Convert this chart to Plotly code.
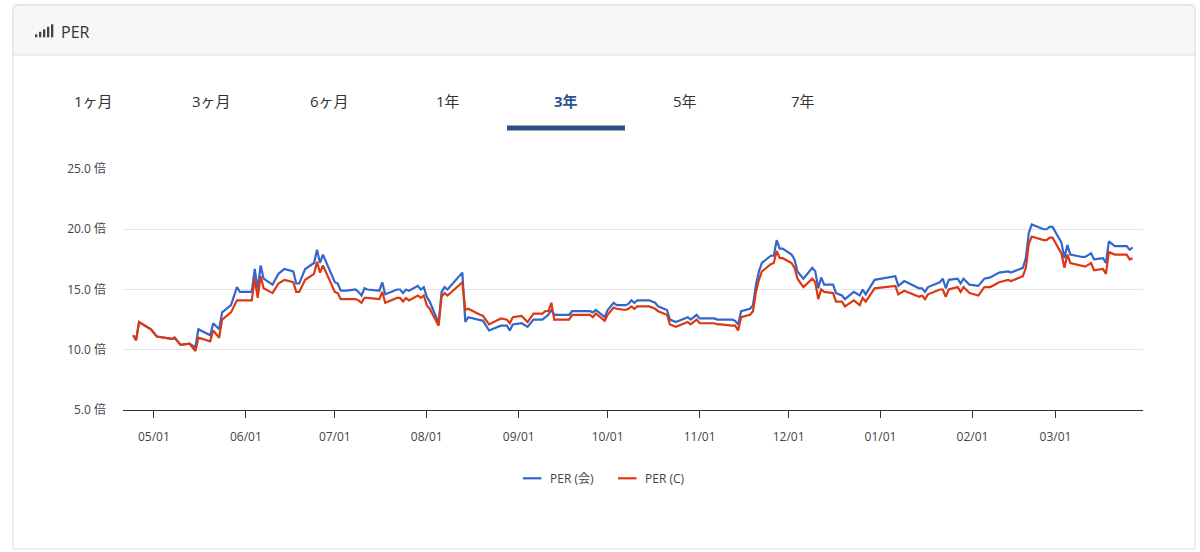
"""PER chart (3年 tab): PER (会) vs PER (C), Apr 2024 - Mar 2025."""

import plotly.graph_objects as go

DATES = [
    "2024-04-24", "2024-04-25", "2024-04-26", "2024-04-30", "2024-05-02", "2024-05-07",
    "2024-05-08", "2024-05-10", "2024-05-13", "2024-05-15", "2024-05-16", "2024-05-20",
    "2024-05-21", "2024-05-23", "2024-05-24", "2024-05-27", "2024-05-29", "2024-05-30",
    "2024-06-03", "2024-06-04", "2024-06-05", "2024-06-06", "2024-06-07", "2024-06-10",
    "2024-06-12", "2024-06-14", "2024-06-17", "2024-06-18", "2024-06-19", "2024-06-21",
    "2024-06-24", "2024-06-25", "2024-06-26", "2024-06-27", "2024-07-01", "2024-07-02",
    "2024-07-03", "2024-07-05", "2024-07-08", "2024-07-09", "2024-07-10", "2024-07-11",
    "2024-07-12", "2024-07-16", "2024-07-17", "2024-07-18", "2024-07-22", "2024-07-23",
    "2024-07-24", "2024-07-25", "2024-07-26", "2024-07-29", "2024-07-30", "2024-07-31",
    "2024-08-01", "2024-08-02", "2024-08-05", "2024-08-06", "2024-08-07", "2024-08-08",
    "2024-08-13", "2024-08-14", "2024-08-15", "2024-08-19", "2024-08-20", "2024-08-22",
    "2024-08-26", "2024-08-28", "2024-08-29", "2024-08-30", "2024-09-02", "2024-09-04",
    "2024-09-06", "2024-09-09", "2024-09-10", "2024-09-11", "2024-09-12", "2024-09-13",
    "2024-09-18", "2024-09-19", "2024-09-25", "2024-09-26", "2024-09-27", "2024-09-30",
    "2024-10-01", "2024-10-03", "2024-10-04", "2024-10-07", "2024-10-08", "2024-10-09",
    "2024-10-10", "2024-10-11", "2024-10-15", "2024-10-17", "2024-10-18", "2024-10-21",
    "2024-10-22", "2024-10-24", "2024-10-28", "2024-10-29", "2024-10-31", "2024-11-01",
    "2024-11-06", "2024-11-07", "2024-11-08", "2024-11-12", "2024-11-13", "2024-11-14",
    "2024-11-15", "2024-11-18", "2024-11-19", "2024-11-20", "2024-11-21", "2024-11-22",
    "2024-11-25", "2024-11-26", "2024-11-27", "2024-11-28", "2024-11-29", "2024-12-02",
    "2024-12-03", "2024-12-04", "2024-12-06", "2024-12-09", "2024-12-10", "2024-12-11",
    "2024-12-12", "2024-12-13", "2024-12-16", "2024-12-17", "2024-12-19", "2024-12-20",
    "2024-12-23", "2024-12-25", "2024-12-26", "2024-12-27", "2024-12-30", "2025-01-06",
    "2025-01-07", "2025-01-09", "2025-01-14", "2025-01-15", "2025-01-16", "2025-01-17",
    "2025-01-21", "2025-01-22", "2025-01-23", "2025-01-24", "2025-01-27", "2025-01-28",
    "2025-01-29", "2025-01-31", "2025-02-03", "2025-02-05", "2025-02-07", "2025-02-10",
    "2025-02-13", "2025-02-14", "2025-02-18", "2025-02-19", "2025-02-20", "2025-02-21",
    "2025-02-25", "2025-02-26", "2025-02-27", "2025-02-28", "2025-03-03", "2025-03-04",
    "2025-03-05", "2025-03-06", "2025-03-10", "2025-03-11", "2025-03-13", "2025-03-14",
    "2025-03-17", "2025-03-18", "2025-03-19", "2025-03-21", "2025-03-25", "2025-03-26",
    "2025-03-27",
]

# PER (会) - blue
PER_KAI = [
    11.2, 10.8, 12.3, 11.7, 11.1, 10.9,
    11.0, 10.4, 10.5, 10.2, 11.7, 11.2,
    12.2, 11.7, 13.1, 13.7, 15.2, 14.8,
    14.8, 16.7, 15.0, 17.0, 15.9, 15.4,
    16.3, 16.7, 16.5, 15.5, 15.5, 16.7,
    17.2, 18.3, 17.2, 17.9, 15.6, 15.5,
    14.9, 14.9, 15.0, 14.8, 14.5, 15.1,
    15.0, 14.9, 15.6, 14.6, 15.0, 15.0,
    14.7, 15.0, 14.9, 15.3, 15.0, 15.2,
    14.4, 14.0, 12.2, 14.8, 15.2, 15.0,
    16.4, 12.3, 12.7, 12.5, 12.4, 11.6,
    12.0, 12.0, 11.6, 12.1, 12.2, 11.9,
    12.5, 12.5, 12.7, 12.9, 13.3, 12.9,
    12.9, 13.2, 13.2, 13.1, 13.3, 12.7,
    13.3, 13.9, 13.7, 13.7, 13.8, 14.1,
    13.9, 14.1, 14.1, 13.9, 13.6, 13.3,
    12.5, 12.3, 12.7, 12.5, 12.9, 12.6,
    12.6, 12.5, 12.5, 12.5, 12.4, 12.1,
    13.2, 13.4, 13.7, 15.4, 16.5, 17.2,
    17.8, 17.8, 19.1, 18.4, 18.4, 17.9,
    17.5, 16.5, 15.9, 16.8, 16.5, 15.1,
    16.0, 15.4, 15.4, 14.7, 14.5, 14.2,
    14.8, 14.5, 15.0, 14.6, 15.8, 16.1,
    15.3, 15.7, 15.1, 15.1, 14.8, 15.2,
    15.6, 15.9, 15.1, 15.8, 15.9, 15.5,
    15.9, 15.4, 15.3, 15.9, 16.0, 16.4,
    16.5, 16.4, 16.8, 17.6, 19.7, 20.4,
    20.0, 20.0, 20.2, 20.2, 18.9, 17.6,
    18.7, 17.9, 17.7, 17.7, 18.0, 17.5,
    17.6, 17.2, 19.0, 18.6, 18.6, 18.3,
    18.5,
]

# PER (C) - red
PER_C = [
    11.2, 10.8, 12.3, 11.7, 11.1, 10.9,
    11.0, 10.4, 10.5, 9.9, 11.0, 10.7,
    11.6, 11.0, 12.5, 13.1, 14.1, 14.1,
    14.1, 15.9, 14.3, 16.1, 15.1, 14.7,
    15.5, 15.8, 15.6, 14.8, 14.8, 15.8,
    16.3, 17.3, 16.4, 17.0, 14.8, 14.7,
    14.2, 14.2, 14.2, 14.1, 13.9, 14.3,
    14.3, 14.2, 14.8, 13.9, 14.3, 14.3,
    14.0, 14.3, 14.1, 14.5, 14.3, 14.5,
    13.7, 13.4, 12.0, 14.4, 14.7, 14.5,
    15.6, 13.3, 13.4, 12.9, 12.8, 12.1,
    12.6, 12.5, 12.2, 12.7, 12.8, 12.3,
    13.0, 13.0, 13.2, 13.2, 13.9, 12.5,
    12.5, 12.9, 12.9, 12.7, 13.0, 12.4,
    12.9, 13.5, 13.4, 13.3, 13.4, 13.6,
    13.4, 13.6, 13.6, 13.4, 13.2, 12.9,
    12.1, 11.9, 12.3, 12.1, 12.5, 12.2,
    12.2, 12.1, 12.1, 12.0, 12.0, 11.6,
    12.7, 12.9, 13.2, 14.8, 15.8, 16.5,
    17.1, 17.2, 18.2, 17.6, 17.6, 17.2,
    16.8, 15.9, 15.2, 15.9, 15.6, 14.2,
    15.0, 14.8, 14.7, 14.0, 14.0, 13.6,
    14.1, 13.7, 14.3, 14.0, 15.1, 15.3,
    14.6, 14.9, 14.4, 14.5, 14.2, 14.6,
    15.0, 15.0, 14.4, 15.0, 15.2, 14.8,
    15.2, 14.7, 14.5, 15.2, 15.2, 15.6,
    15.8, 15.7, 16.1, 16.8, 18.8, 19.4,
    19.1, 19.1, 19.3, 19.3, 18.0, 16.8,
    17.9, 17.2, 17.0, 16.9, 17.2, 16.6,
    16.7, 16.3, 18.1, 17.9, 17.9, 17.5,
    17.6,
]

Y_TICKS = [5, 10, 15, 20, 25]
TABS = ["1ヶ月", "3ヶ月", "6ヶ月", "1年", "3年", "5年", "7年"]
ACTIVE_TAB = "3年"
TITLE = "PER"
NAME_KAI = "PER (会)"
NAME_C = "PER (C)"

BLUE = "#3366cc"
RED = "#dc3912"
ACTIVE_COLOR = "#2a5590"
FONT = "Open Sans, Noto Sans CJK JP, sans-serif"

W, H = 1200, 552
PLOT_L, PLOT_R, PLOT_T, PLOT_B = 123, 1143, 169, 410


def px(x):
    return (x - PLOT_L) / (PLOT_R - PLOT_L)


def py(y):
    return (PLOT_B - y) / (PLOT_B - PLOT_T)


def rounded_top_path(x0, y0, x1, y1, r, close_bottom=True):
    # pixel box with rounded top corners, converted to paper units
    rx = r / (PLOT_R - PLOT_L)
    ry = r / (PLOT_B - PLOT_T)
    X0, X1, Y0, Y1 = px(x0), px(x1), py(y0), py(y1)
    return (
        f"M {X0} {Y1} L {X0} {Y0 - ry} Q {X0} {Y0} {X0 + rx} {Y0} "
        f"L {X1 - rx} {Y0} Q {X1} {Y0} {X1} {Y0 - ry} L {X1} {Y1}"
        + (" Z" if close_bottom else "")
    )


def main() -> None:
    fig = go.Figure()
    fig.add_trace(
        go.Scatter(x=DATES, y=PER_KAI, mode="lines", name=NAME_KAI,
                   line=dict(color=BLUE, width=2.2))
    )
    fig.add_trace(
        go.Scatter(x=DATES, y=PER_C, mode="lines", name=NAME_C,
                   line=dict(color=RED, width=2.2))
    )

    shapes = []
    # card + header band
    shapes.append(dict(type="path", xref="paper", yref="paper", layer="below",
                       path=rounded_top_path(13, 5, 1195, 549, 4),
                       fillcolor="white", line=dict(color="#dddddd", width=1)))
    shapes.append(dict(type="path", xref="paper", yref="paper", layer="below",
                       path=rounded_top_path(13, 5, 1195, 55, 4),
                       fillcolor="#f7f7f7", line=dict(color="#dddddd", width=1)))
    # signal-bars icon
    for i, h in enumerate([3, 5.5, 8, 10.5, 13]):
        x0 = 35 + i * 4
        shapes.append(dict(type="rect", xref="paper", yref="paper",
                           x0=px(x0), x1=px(x0 + 2.3), y0=py(37.3), y1=py(37.3 - h),
                           fillcolor="#444444", line=dict(width=0)))
    # active tab underline
    shapes.append(dict(type="rect", xref="paper", yref="paper",
                       x0=px(507), x1=px(625), y0=py(130.5), y1=py(125.5),
                       fillcolor="#2c5181", line=dict(width=0)))
    # legend samples
    for x0, color in [(523, BLUE), (618, RED)]:
        shapes.append(dict(type="line", xref="paper", yref="paper",
                           x0=px(x0), x1=px(x0 + 18.5), y0=py(478.3), y1=py(478.3),
                           line=dict(color=color, width=2.2)))

    annotations = [
        dict(text=TITLE, x=px(59), y=py(31.5), xref="paper", yref="paper",
             xanchor="left", yanchor="middle", showarrow=False,
             font=dict(family=FONT, size=16, color="#333333")),
    ]
    for i, tab in enumerate(TABS):
        active = tab == ACTIVE_TAB
        annotations.append(dict(
            text=f"<b>{tab}</b>" if active else tab,
            x=px(93 + i * 118.3), y=py(101), xref="paper", yref="paper",
            xanchor="center", yanchor="middle", showarrow=False,
            font=dict(family=FONT, size=15, color=ACTIVE_COLOR if active else "#333333"),
        ))
    for x0, name in [(548, NAME_KAI), (643, NAME_C)]:
        annotations.append(dict(
            text=name, x=px(x0), y=py(478.3), xref="paper", yref="paper",
            xanchor="left", yanchor="middle", showarrow=False,
            font=dict(family=FONT, size=12, color="#444444"),
        ))

    fig.update_layout(
        width=W,
        height=H,
        margin=dict(l=PLOT_L, r=W - PLOT_R, t=PLOT_T, b=H - PLOT_B, pad=0),
        paper_bgcolor="white",
        plot_bgcolor="rgba(0,0,0,0)",
        showlegend=False,
        font=dict(family=FONT, size=12, color="#444444"),
        shapes=shapes,
        annotations=annotations,
        xaxis=dict(
            type="date",
            range=["2024-04-20 14:00", "2025-03-30 12:00"],
            tick0="2024-05-01",
            dtick="M1",
            tickformat="%m/%d",
            ticks="outside",
            ticklen=7,
            tickcolor="#333333",
            tickwidth=1,
            ticklabelstandoff=9,
            showgrid=False,
            showline=True,
            linecolor="#333333",
            linewidth=1,
            zeroline=False,
            tickfont=dict(family=FONT, size=12, color="#444444"),
        ),
        yaxis=dict(
            range=[5, 25],
            tickvals=Y_TICKS,
            ticktext=[f"{v:.1f} 倍" for v in Y_TICKS],
            showgrid=True,
            gridcolor="#e6e6e6",
            gridwidth=1,
            zeroline=False,
            showline=False,
            ticks="",
            ticklabelstandoff=16,
            tickfont=dict(family=FONT, size=12, color="#444444"),
        ),
    )

    fig.write_html(
        "out.html",
        config={"displayModeBar": False},
        post_script="document.body.style.margin='0';document.body.style.overflow='hidden';",
    )


if __name__ == "__main__":
    main()
